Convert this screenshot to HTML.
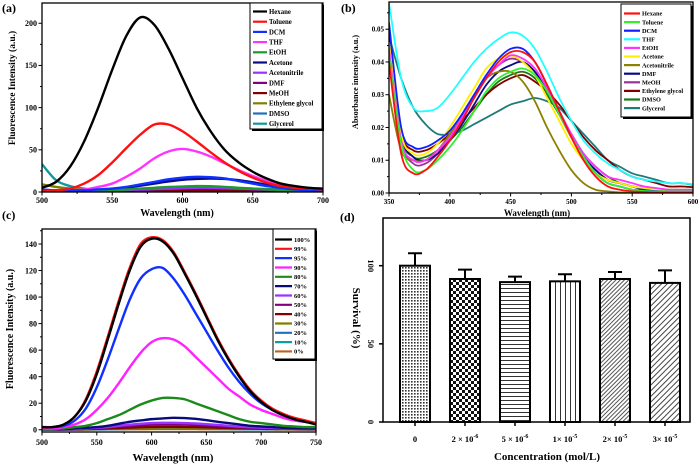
<!DOCTYPE html>
<html><head><meta charset="utf-8"><style>
html,body{margin:0;padding:0;background:#fff}
svg{display:block;font-family:"Liberation Serif",serif;font-weight:bold}
</style></head><body>
<svg id="fig" width="700" height="466" viewBox="0 0 700 466" xmlns="http://www.w3.org/2000/svg">
<defs>
<pattern id="pDots" width="3" height="3" patternUnits="userSpaceOnUse"><rect width="3" height="3" fill="#fff"/><rect width="1.6" height="1.6" fill="#333"/></pattern>
<pattern id="pCheck" width="6" height="6" patternUnits="userSpaceOnUse"><rect width="6" height="6" fill="#fff"/><rect width="3" height="3" fill="#111"/><rect x="3" y="3" width="3" height="3" fill="#111"/></pattern>
<pattern id="pHoriz" width="4" height="4" patternUnits="userSpaceOnUse"><rect width="4" height="4" fill="#fff"/><rect y="0" width="4" height="1" fill="#333"/></pattern>
<pattern id="pVert" width="5" height="5" patternUnits="userSpaceOnUse"><rect width="5" height="5" fill="#fff"/><rect width="1" height="5" fill="#333"/></pattern>
<pattern id="pDiag" width="3" height="3" patternUnits="userSpaceOnUse" patternTransform="rotate(45)"><rect width="3" height="3" fill="#fff"/><rect width="1" height="3" fill="#555"/></pattern>
<pattern id="pDiag2" width="4" height="4" patternUnits="userSpaceOnUse" patternTransform="rotate(45)"><rect width="4" height="4" fill="#fff"/><rect width="1" height="4" fill="#444"/></pattern>
<clipPath id="clipA"><rect x="42" y="3" width="281" height="189"/></clipPath>
<clipPath id="clipB"><rect x="389" y="2" width="304" height="191"/></clipPath>
<clipPath id="clipC"><rect x="42" y="229" width="274" height="203"/></clipPath>
</defs>
</svg>
<script>
// ---------- Panel (a) data ----------
const aWave = [500,510,520,530,540,550,560,570,580,590,600,610,620,630,640,650,660,670,680,690,700];
const aNames = ["Hexane","Toluene","DCM","THF","EtOH","Acetone","Acetonitrile","DMF","MeOH","Ethylene glycol","DMSO","Glycerol"];
const aHexane = [5,12,30,60,100,145,185,207,198,170,135,100,72,50,35,24,16,10,7,5,4];
const aToluene = [1,2,4,10,20,35,52,68,80,80,72,60,47,35,25,17,11,7,5,4,3];
const aDCM = [3,2,2,2,3,4,6,9,12,15,17,18,17.5,16,13,10,7,5,3,2,2];
const aTHF = [1,1,2,3,6,10,18,28,40,48,51,48,42,34,26,19,13,8,5,4,3];
const aEtOH = [1,1,1,1,1.5,2,3,4,5,6,6.5,7,6.8,6,5,4,3,2.5,2,1.5,1];
const aAcetone = [2,2,2,2,2.5,3.5,5,7.5,10,12.5,14.5,15.5,16,15.5,14,11.5,8.5,6,4,3,2];
const aAcetonitrile = [1,1,1,1,1.5,2,2.5,3,3.5,4,4.5,5,5,4.5,4,3.5,3,2.5,2,1.5,1];
const aDMF = [1,1,1,1,1,1.5,2,2.5,3,3.5,4,4,4,3.8,3.5,3,2.5,2,1.5,1.2,1];
const aMeOH = [0.5,0.5,0.5,0.5,0.8,1,1.2,1.5,1.8,2,2,2,2,2,1.8,1.5,1.2,1,0.8,0.6,0.5];
const aEG = [9,6,4,3,2,1.5,1.2,1,1,1,1,1,1,1,1,1,1,1,1,1,1];
const aDMSO = [2,2,2,2,2,2.2,2.5,2.8,3,3.2,3.4,3.5,3.4,3.2,3,2.8,2.5,2.2,2,2,2];
const aGlycerol = [33,14,7,4,3,3,3,3.5,4,4.5,5,5.5,5.5,5,4.5,4,3.5,3,3,3,3];
const aSeries = [aHexane,aToluene,aDCM,aTHF,aEtOH,aAcetone,aAcetonitrile,aDMF,aMeOH,aEG,aDMSO,aGlycerol];
const aColors = ["#000000","#ff1010","#1030ff","#ff33ff","#1a9a30","#0a0a8a","#9933ff","#800080","#800000","#808000","#1f6fbf","#119999"];
const aXTicks = [500,550,600,650,700];
const aYTicks = [0,50,100,150,200];

// ---------- Panel (b) data ----------
const bWave = [350,360,370,380,390,400,410,420,430,440,450,460,470,480,490,500,510,520,530,540,550,560,570,580,590,600];
const bNames = ["Hexane","Toluene","DCM","THF","EtOH","Acetone","Acetonitrile","DMF","MeOH","Ethylene glycol","DMSO","Glycerol"];
const bHexane = [0.040,0.012,0.006,0.007,0.011,0.016,0.022,0.029,0.035,0.040,0.043,0.043,0.040,0.033,0.025,0.017,0.010,0.005,0.002,0.001,0.0005,0.0003,0.0002,0.0002,0.0002,0.0002];
const bToluene = [0.042,0.015,0.007,0.007,0.010,0.014,0.019,0.025,0.031,0.035,0.037,0.038,0.036,0.031,0.024,0.017,0.011,0.006,0.003,0.002,0.001,0.0006,0.0005,0.0005,0.0005,0.0005];
const bDCM = [0.052,0.020,0.014,0.014,0.016,0.019,0.024,0.030,0.036,0.041,0.044,0.044,0.040,0.033,0.025,0.017,0.011,0.006,0.003,0.002,0.001,0.0008,0.0006,0.0005,0.0005,0.0005];
const bTHF = [0.058,0.035,0.026,0.025,0.026,0.030,0.035,0.040,0.044,0.047,0.049,0.048,0.044,0.037,0.029,0.022,0.016,0.012,0.009,0.007,0.005,0.004,0.0035,0.003,0.003,0.0027];
const bEtOH = [0.044,0.016,0.010,0.010,0.013,0.017,0.023,0.029,0.035,0.039,0.042,0.041,0.038,0.032,0.025,0.018,0.012,0.008,0.005,0.004,0.003,0.002,0.0015,0.001,0.001,0.001];
const bAcetone = [0.046,0.018,0.012,0.012,0.015,0.020,0.026,0.032,0.038,0.041,0.042,0.040,0.036,0.029,0.022,0.015,0.010,0.006,0.004,0.003,0.002,0.0015,0.001,0.001,0.001,0.001];
const bAcetonitrile = [0.030,0.013,0.010,0.010,0.013,0.018,0.024,0.030,0.035,0.037,0.037,0.034,0.028,0.020,0.013,0.007,0.003,0.001,0.0005,0.0002,0.0001,0.0001,0.0001,0.0001,0.0001,0.0001];
const bDMF = [0.048,0.018,0.011,0.010,0.012,0.016,0.021,0.027,0.033,0.037,0.039,0.040,0.037,0.031,0.024,0.017,0.011,0.007,0.004,0.003,0.002,0.001,0.001,0.0008,0.0008,0.0008];
const bMeOH = [0.046,0.016,0.009,0.009,0.012,0.017,0.023,0.029,0.035,0.039,0.041,0.040,0.037,0.031,0.024,0.017,0.011,0.007,0.004,0.003,0.002,0.0015,0.001,0.001,0.001,0.001];
const bEG = [0.040,0.018,0.013,0.013,0.015,0.018,0.022,0.026,0.030,0.033,0.035,0.036,0.034,0.031,0.027,0.022,0.017,0.013,0.010,0.007,0.005,0.004,0.003,0.002,0.002,0.0018];
const bDMSO = [0.044,0.017,0.011,0.011,0.013,0.016,0.020,0.025,0.030,0.034,0.036,0.037,0.035,0.030,0.024,0.018,0.012,0.008,0.005,0.003,0.002,0.0015,0.001,0.001,0.001,0.001];
const bGlycerol = [0.048,0.035,0.026,0.021,0.018,0.018,0.019,0.021,0.023,0.025,0.027,0.028,0.029,0.028,0.026,0.022,0.018,0.014,0.010,0.008,0.006,0.005,0.004,0.003,0.003,0.0025];
const bSeries = [bHexane,bToluene,bDCM,bTHF,bEtOH,bAcetone,bAcetonitrile,bDMF,bMeOH,bEG,bDMSO,bGlycerol];
const bColors = ["#ff1010","#33ee33","#1020ff","#22ffff","#ff33ff","#ffee00","#8b8000","#0a0a8a","#993399","#800000","#1a7a1a","#207a7a"];
const bXTicks = [350,400,450,500,550,600];
const bYTicks = [0,0.01,0.02,0.03,0.04,0.05];
const bYLabels = ["0.00","0.01","0.02","0.03","0.04","0.05"];

// ---------- Panel (c) data ----------
const cWave = [500,510,520,530,540,550,560,570,580,590,600,610,620,630,640,650,660,670,680,690,700,710,720,730,740,750];
const cNames = ["100%","99%","95%","90%","80%","70%","60%","50%","40%","30%","20%","10%","0%"];
const c100 = [2,2,4,10,22,42,68,95,120,138,144,142,133,118,102,85,68,53,40,29,21,15,11,8,6,4];
const c99 = [2,2,4,10,23,44,70,97,122,140,145,143,134,119,103,86,69,54,41,30,22,16,12,9,7,5];
const c95 = [2,2,3,7,16,32,53,76,98,114,121,122,114,102,88,74,60,47,36,27,20,15,11,8,6,5];
const c90 = [1,1,2,4,8,15,24,35,47,58,66,69,68,63,55,47,39,31,25,19,15,12,9,7,6,5];
const c80 = [0.5,0.5,1,2,3,5,8,11,15,19,22,24,24,23,20,17,14,11,8,6,5,4,3,2.5,2,2];
const c70 = [0.5,0.5,0.5,1,1.5,2,3,4.5,6,7,8,8.5,9,8.8,8.2,7.2,6,5,4,3,2.5,2,1.5,1.2,1,1];
const c60 = [0.3,0.3,0.4,0.6,1,1.5,2,3,3.8,4.5,5,5.2,5.2,5,4.7,4.2,3.6,3,2.4,2,1.6,1.3,1,0.9,0.8,0.7];
const c50 = [0.3,0.3,0.3,0.5,0.8,1.2,1.8,2.5,3,3.5,3.8,4,4,3.9,3.6,3.2,2.8,2.3,1.9,1.5,1.2,1,0.8,0.7,0.6,0.5];
const c40 = [0.2,0.2,0.2,0.3,0.5,0.7,1,1.3,1.6,1.9,2.1,2.2,2.2,2.1,2,1.8,1.6,1.4,1.2,1,0.8,0.7,0.6,0.5,0.4,0.4];
const c30 = [0.2,0.2,0.2,0.3,0.4,0.6,0.8,1,1.2,1.4,1.5,1.6,1.6,1.5,1.4,1.3,1.2,1,0.9,0.8,0.7,0.6,0.5,0.4,0.4,0.3];
const c20 = [0.1,0.1,0.2,0.2,0.3,0.4,0.6,0.7,0.9,1,1.1,1.1,1.1,1.1,1,0.9,0.8,0.7,0.6,0.5,0.5,0.4,0.4,0.3,0.3,0.3];
const c10 = [0.1,0.1,0.1,0.2,0.2,0.3,0.4,0.5,0.6,0.7,0.8,0.8,0.8,0.8,0.7,0.7,0.6,0.5,0.5,0.4,0.4,0.3,0.3,0.3,0.2,0.2];
const c0 = [0.1,0.1,0.1,0.1,0.2,0.2,0.3,0.3,0.4,0.4,0.5,0.5,0.5,0.5,0.5,0.4,0.4,0.4,0.3,0.3,0.3,0.2,0.2,0.2,0.2,0.2];
const cSeries = [c100,c99,c95,c90,c80,c70,c60,c50,c40,c30,c20,c10,c0];
const cColors = ["#000000","#ff1010","#1030ff","#ff22ff","#1a8a1a","#0a0a7a","#9933ff","#800080","#800000","#808000","#1f6fbf","#0aa0a0","#b8651b"];
const cXTicks = [500,550,600,650,700,750];
const cYTicks = [0,20,40,60,80,100,120,140];

// ---------- Panel (d) data ----------
const dCats = ["0","2 × 10","5 × 10","1× 10","2× 10","3× 10"];
const dExps = ["","-6","-6","-5","-5","-5"];
const dValues = [100,91.5,89.5,90,91.5,89];
const dErrors = [8,6,3.5,4.5,4.5,8];
const dPatterns = ["pDots","pCheck","pHoriz","pVert","pDiag","pDiag2"];
const dYTicks = [0,50,100];

const NS = "http://www.w3.org/2000/svg";
const svg = document.getElementById("fig");
function mk(tag, attrs, parent) {
  const e = document.createElementNS(NS, tag);
  for (const k in attrs) e.setAttribute(k, attrs[k]);
  (parent || svg).appendChild(e);
  return e;
}
function txt(s, attrs, parent) { const t = mk("text", attrs, parent); t.textContent = s; return t; }
function lin(d0, d1, r0, r1) { return v => r0 + (v - d0) / (d1 - d0) * (r1 - r0); }
function smoothPath(pts) {
  let d = "M" + pts[0][0].toFixed(2) + "," + pts[0][1].toFixed(2);
  for (let i = 0; i < pts.length - 1; i++) {
    const p0 = pts[Math.max(0, i - 1)], p1 = pts[i], p2 = pts[i + 1], p3 = pts[Math.min(pts.length - 1, i + 2)];
    const c1x = p1[0] + (p2[0] - p0[0]) / 6, c1y = p1[1] + (p2[1] - p0[1]) / 6;
    const c2x = p2[0] - (p3[0] - p1[0]) / 6, c2y = p2[1] - (p3[1] - p1[1]) / 6;
    d += "C" + c1x.toFixed(2) + "," + c1y.toFixed(2) + " " + c2x.toFixed(2) + "," + c2y.toFixed(2) + " " + p2[0].toFixed(2) + "," + p2[1].toFixed(2);
  }
  return d;
}

function linePanel(cfg) {
  const g = mk("g", {});
  
  
  const X = lin(cfg.xd[0], cfg.xd[1], cfg.x0, cfg.x1);
  const Y = lin(cfg.yd[0], cfg.yd[1], cfg.y1, cfg.y0);
  const sg = mk("g", {"clip-path": "url(#" + cfg.clip + ")"}, g);
  for (let s = cfg.series.length - 1; s >= 0; s--) {
    const pts = cfg.wave.map((w, i) => [X(w), Y(cfg.series[s][i])]);
    const p = mk("path", {d: smoothPath(pts), fill: "none", stroke: cfg.colors[s], "stroke-width": cfg.lw, "stroke-linejoin": "round"}, sg);
    
    
  }
  // frame
  const fr = mk("rect", {x: cfg.x0, y: cfg.y0, width: cfg.x1 - cfg.x0, height: cfg.y1 - cfg.y0, fill: "none", stroke: "#000", "stroke-width": 1.3}, g);
  
  
  // x ticks
  cfg.xticks.forEach((t, i) => {
    const x = X(t);
    mk("line", {x1: x, x2: x, y1: cfg.y1, y2: cfg.y1 + 3.5, stroke: "#000", "stroke-width": 1}, g);
    if (i < cfg.xticks.length - 1) {
      const xm = X(t + (cfg.xticks[1] - cfg.xticks[0]) / 2);
      mk("line", {x1: xm, x2: xm, y1: cfg.y1, y2: cfg.y1 + 2, stroke: "#000", "stroke-width": 1}, g);
    }
    const tl = txt(String(t), {x: x, y: cfg.y1 + cfg.xlOff, "font-size": cfg.tfs, "text-anchor": "middle"}, g);
    
    
  });
  cfg.yticks.forEach((t, i) => {
    const y = Y(t);
    mk("line", {x1: cfg.x0 - 3.5, x2: cfg.x0, y1: y, y2: y, stroke: "#000", "stroke-width": 1}, g);
    const ym = Y(t + (cfg.yticks[1] - cfg.yticks[0]) / 2);
    if (ym > cfg.y0) mk("line", {x1: cfg.x0 - 2, x2: cfg.x0, y1: ym, y2: ym, stroke: "#000", "stroke-width": 1}, g);
    const tl = txt(cfg.ylabels ? cfg.ylabels[i] : String(t), {x: cfg.x0 - 5, y: y + cfg.tfs * 0.35, "font-size": cfg.tfs, "text-anchor": "end"}, g);
    
    
  });
  const xt = txt(cfg.xtitle, {x: cfg.xtX, y: cfg.xtY, "font-size": cfg.xtfs, "text-anchor": "middle"}, g);
  
  
  const yt = txt(cfg.ytitle, {x: 0, y: 0, "font-size": cfg.ytfs, "text-anchor": "middle", transform: "translate(" + cfg.ytX + "," + cfg.ytY + ") rotate(-90)"}, g);
  
  
  // legend
  const L = cfg.leg;
  const lg = mk("g", {}, g);
  
  
  mk("rect", {x: L.x + 2, y: L.y + 2, width: L.w, height: L.h, fill: "#000"}, lg);
  mk("rect", {x: L.x, y: L.y, width: L.w, height: L.h, fill: "#fff", stroke: "#000", "stroke-width": 1}, lg);
  cfg.names.forEach((n, i) => {
    const y = L.r0 + L.dy * i;
    const e = mk("g", {}, lg);
    
    
    mk("line", {x1: L.lx0, x2: L.lx1, y1: y, y2: y, stroke: cfg.colors[i], "stroke-width": 2.2}, e);
    txt(n, {x: L.tx, y: y + L.fs * 0.35, "font-size": L.fs}, e);
  });
}

linePanel({name: "panel-a-chart", xd: [500, 700], yd: [0, 224], x0: 42, x1: 323, y0: 3, y1: 192, clip: "clipA",
  wave: aWave, series: aSeries, colors: aColors, names: aNames, lw: 2.4,
  xticks: aXTicks, yticks: aYTicks, tfs: 8, xlOff: 11,
  xtitle: "Wavelength (nm)", xtX: 177, xtY: 216, xtfs: 10,
  ytitle: "Fluorescence Intensity (a.u.)", ytX: 15, ytY: 88, ytfs: 9.5,
  leg: {x: 250, y: 3, w: 72, h: 126, r0: 11.5, dy: 10.2, lx0: 253, lx1: 267, tx: 269, fs: 6.8}});

linePanel({name: "panel-b-chart", xd: [350, 600], yd: [0, 0.0583], x0: 389, x1: 693, y0: 2, y1: 193, clip: "clipB",
  wave: bWave, series: bSeries, colors: bColors, names: bNames, lw: 1.8,
  xticks: bXTicks, yticks: bYTicks, ylabels: bYLabels, tfs: 7, xlOff: 11,
  xtitle: "Wavelength (nm)", xtX: 537, xtY: 216, xtfs: 9,
  ytitle: "Absorbance intensity (a.u.)", ytX: 358, ytY: 82, ytfs: 8.2,
  leg: {x: 621, y: 4, w: 70, h: 113, r0: 13.5, dy: 8.6, lx0: 624, lx1: 640, tx: 642, fs: 6.3}});

linePanel({name: "panel-c-chart", xd: [500, 750], yd: [-1.7, 151.3], x0: 42, x1: 316, y0: 229, y1: 432, clip: "clipC",
  wave: cWave, series: cSeries, colors: cColors, names: cNames, lw: 2.4,
  xticks: cXTicks, yticks: cYTicks, tfs: 8, xlOff: 13,
  xtitle: "Wavelength (nm)", xtX: 173, xtY: 461, xtfs: 11,
  ytitle: "Fluorescence Intensity (a.u.)", ytX: 13, ytY: 329, ytfs: 10,
  leg: {x: 273, y: 229, w: 42, h: 130, r0: 239.5, dy: 9.33, lx0: 275, lx1: 292, tx: 294, fs: 6.5}});

// ---------- Panel (d) bar chart ----------
(function () {
  const g = mk("g", {});
  
  
  const x0 = 383, x1 = 690, y0 = 218, y1 = 422;
  const Y = lin(0, 100, y1, 265.7);
  const step = 50, first = 415, bw = 30;
  const BX = i => first + i * step;
  mk("rect", {x: x0, y: y0, width: x1 - x0, height: y1 - y0, fill: "none", stroke: "#000", "stroke-width": 1.5}, g);
  dValues.forEach((v, i) => {
    const cx = BX(i);
    const eb = mk("path", {d: "M" + cx + "," + Y(v) + "V" + Y(v + dErrors[i]) + "M" + (cx - 7) + "," + Y(v + dErrors[i]) + "H" + (cx + 7), stroke: "#000", "stroke-width": 2, fill: "none"}, g);
    
    
    const r = mk("rect", {x: cx - bw / 2, y: Y(v), width: bw, height: y1 - Y(v), fill: "url(#" + dPatterns[i] + ")", stroke: "#000", "stroke-width": 2}, g);
    
    
    mk("line", {x1: cx, x2: cx, y1: y1, y2: y1 + 4, stroke: "#000", "stroke-width": 1.5}, g);
    const t = txt(dCats[i], {x: cx, y: y1 + 20, "font-size": 8.5, "text-anchor": "middle"}, g);
    if (dExps[i]) { const ts = mk("tspan", {dy: -4, "font-size": 6}, t); ts.textContent = dExps[i]; }
    
    
  });
  dYTicks.forEach(t => {
    const y = Y(t);
    mk("line", {x1: x0 - 4, x2: x0, y1: y, y2: y, stroke: "#000", "stroke-width": 1.5}, g);
    const tl = txt(String(t), {x: 0, y: 0, "font-size": 8.5, "text-anchor": "middle", transform: "translate(368," + y + ") rotate(90)"}, g);
    
    
  });
  const xt = txt("Concentration (mol/L)", {x: 547, y: 460, "font-size": 11, "text-anchor": "middle"}, g);
  
  
  const yt = txt("Survival (%)", {x: 0, y: 0, "font-size": 11, "text-anchor": "middle", transform: "translate(353,318) rotate(90)"}, g);
  
  
})();

// panel labels
[["(a)", 2, 12], ["(b)", 341, 12], ["(c)", 2, 219], ["(d)", 340, 221]].forEach(p => {
  const t = txt(p[0], {x: p[1], y: p[2], "font-size": 12});
  
  
});
</script>
</body></html>
